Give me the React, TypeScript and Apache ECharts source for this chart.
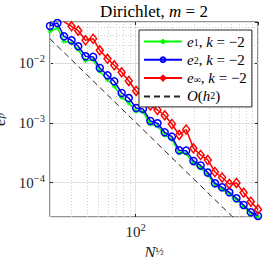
import React, { useEffect, useRef } from "react";
import * as echarts from "echarts";

const FONT = "'Liberation Serif', 'DejaVu Serif', serif";

// N^(1/2) sample positions
const sqrtN = [20, 23, 26, 30, 34, 39, 45, 51, 59, 67, 77, 88, 101, 115, 132, 151, 173, 198, 227, 259, 297, 340, 389, 445, 509, 583, 667, 763, 874, 1000];

// errors
const e1 = [0.0344, 0.039, 0.02335, 0.0219, 0.0169, 0.01106, 0.01148, 0.00735, 0.00531, 0.00412, 0.00269, 0.00216, 0.00157, 0.00153, 0.000962, 0.000891, 0.00063, 0.00053, 0.000314, 0.000308, 0.00021, 0.000176, 0.000135, 9.04e-5, 7.75e-5, 6.46e-5, 5.13e-5, 3.99e-5, 3.05e-5, 2.66e-5];
const e2 = [0.0422, 0.0473, 0.0283, 0.0243, 0.0193, 0.0131, 0.0128, 0.00834, 0.00629, 0.00499, 0.00318, 0.00262, 0.00178, 0.00172, 0.00108, 0.000989, 0.000698, 0.00059, 0.000349, 0.000344, 0.000231, 0.000194, 0.000148, 9.77e-5, 8.37e-5, 6.9e-5, 5.48e-5, 4.23e-5, 3.19e-5, 2.77e-5];
const eInf = [0.068, 0.072, 0.05, 0.0417, 0.0352, 0.0243, 0.0258, 0.0165, 0.0119, 0.00926, 0.00707, 0.00506, 0.00344, 0.00262, 0.00196, 0.00165, 0.00134, 0.000962, 0.00063, 0.000778, 0.000377, 0.000291, 0.00024, 0.000151, 0.000122, 9.51e-5, 9.89e-5, 6.8e-5, 4.8e-5, 3.56e-5];

// reference slope O(h^2): end points
const refX = [20, 1000];
const refY = [0.0257, 1.028e-5];

// axis limits
const xMin = 20;
const xMax = 1000;
const yMin = 2.66e-5;
const yMax = 0.0492;

// minor grid values
const minorMult = [2, 3, 4, 5, 6, 7, 8, 9];
const xDecades = [10, 100];
const yDecades = [1e-5, 1e-4, 1e-3, 1e-2];

const pairs = (xs: number[], ys: number[]) => xs.map((x, i) => [x, ys[i]]);

const ASTERISK = "path://M5,0L5,10M0,5L10,5M1.5,1.5L8.5,8.5M1.5,8.5L8.5,1.5";

export default function App() {
  const ref = useRef<HTMLDivElement>(null);
  useEffect(() => {
    if (!ref.current) return;
    const chart = echarts.init(ref.current, null, { renderer: "svg" });

    const minorX: number[] = [];
    xDecades.forEach((d) => minorMult.forEach((m) => { const v = d * m; if (v > xMin && v < xMax) minorX.push(v); }));
    const minorY: number[] = [];
    yDecades.forEach((d) => minorMult.forEach((m) => { const v = d * m; if (v > yMin && v < yMax) minorY.push(v); }));

    const sup = (e: number) => (e < 0 ? "\u2212" + -e : String(e));
    const logLabel = (v: number) => "{b|10}{s|" + sup(Math.round(Math.log10(v))) + "}";
    const tickRich = {
      b: { fontSize: 15, lineHeight: 20, fontFamily: FONT, color: "#262626" },
      s: { fontSize: 10.5, lineHeight: 10, verticalAlign: "top", fontFamily: FONT, color: "#262626" },
    };

    const legendNames: Record<string, string> = {
      e1: "{i|e}{sub|1}{n|, }{i|k}{n| = \u22122}",
      e2: "{i|e}{sub|2}{n|, }{i|k}{n| = \u22122}",
      einf: "{i|e}{sub|\u221e}{n|, }{i|k}{n| = \u22122}",
      O: "{i|O}{n|(}{i|h}{sp|2}{n|)}",
    };

    const axisTick = { inside: true, length: 3, lineStyle: { color: "#262626", width: 1 } };

    chart.setOption({
      animation: false,
      backgroundColor: "#fff",
      textStyle: { fontFamily: FONT },
      title: {
        text: "{n|Dirichlet, }{i|m}{n| = 2}",
        left: 154,
        top: 2,
        padding: 0,
        textAlign: "center",
        textStyle: {
          fontWeight: "normal",
          rich: {
            n: { fontSize: 17, lineHeight: 18, fontFamily: FONT, color: "#000" },
            i: { fontSize: 17, lineHeight: 18, fontFamily: FONT, fontStyle: "italic", color: "#000" },
          },
        },
      },
      grid: {
        left: 50, right: 8, top: 22, bottom: 40,
        containLabel: false,
        outerBoundsMode: "none",
        show: true, borderColor: "#262626", borderWidth: 1, backgroundColor: "transparent",
      },
      legend: {
        orient: "vertical",
        left: 139,
        top: 30,
        data: ["e1", "e2", "einf", { name: "O", itemStyle: { opacity: 0 } }],
        itemWidth: 38,
        itemHeight: 6,
        itemGap: 3.3,
        padding: [4, 5, 3, 4],
        backgroundColor: "#fff",
        borderColor: "#262626",
        borderWidth: 1,
        borderRadius: 0,
        selectedMode: false,
        formatter: (n: string) => legendNames[n],
        textStyle: {
          fontFamily: FONT,
          color: "#000",
          rich: {
            n: { fontSize: 15, lineHeight: 12, fontFamily: FONT, color: "#000" },
            i: { fontSize: 15, lineHeight: 12, fontFamily: FONT, fontStyle: "italic", color: "#000" },
            sub: { fontSize: 10, lineHeight: 8, verticalAlign: "bottom", fontFamily: FONT, color: "#000" },
            sp: { fontSize: 10, lineHeight: 8, verticalAlign: "top", fontFamily: FONT, color: "#000" },
          },
        },
      },
      xAxis: [
        {
          type: "log",
          logBase: 10,
          min: xMin,
          max: xMax,
          position: "bottom",
          axisLine: { show: false },
          axisTick,
          axisLabel: { showMinLabel: false, showMaxLabel: false, margin: 5, formatter: logLabel, rich: tickRich },
          splitLine: { show: true, lineStyle: { color: "#e2e2e2", width: 1 } },
          name: "{i|N}{s|\u00bd}",
          nameLocation: "middle",
          nameGap: 19,
          nameTextStyle: {
            rich: {
              i: { fontSize: 17, lineHeight: 14, fontStyle: "italic", fontFamily: FONT, color: "#262626" },
              s: { fontSize: 11, lineHeight: 8, verticalAlign: "top", fontFamily: FONT, color: "#262626" },
            },
          },
        },
        {
          type: "log",
          logBase: 10,
          min: xMin,
          max: xMax,
          position: "top",
          axisLine: { show: false },
          axisTick,
          axisLabel: { show: false },
          splitLine: { show: false },
        },
      ],
      yAxis: [
        {
          type: "log",
          logBase: 10,
          min: yMin,
          max: yMax,
          position: "left",
          axisLine: { show: false },
          axisTick,
          axisLabel: { showMinLabel: false, showMaxLabel: false, margin: 5, formatter: logLabel, rich: tickRich },
          splitLine: { show: true, lineStyle: { color: "#e2e2e2", width: 1 } },
          name: "{i|e}{s|p}",
          nameLocation: "middle",
          nameGap: 31,
          nameTextStyle: {
            rich: {
              i: { fontSize: 17, lineHeight: 12, fontStyle: "italic", fontFamily: FONT, color: "#262626" },
              s: { fontSize: 11, lineHeight: 8, verticalAlign: "bottom", fontStyle: "italic", fontFamily: FONT, color: "#262626" },
            },
          },
        },
        {
          type: "log",
          logBase: 10,
          min: yMin,
          max: yMax,
          position: "right",
          axisLine: { show: false },
          axisTick,
          axisLabel: { show: false },
          splitLine: { show: false },
        },
      ],
      series: [
        {
          name: "e1",
          type: "line",
          data: pairs(sqrtN, e1),
          color: "#00ff00",
          lineStyle: { color: "#00ff00", width: 1.5 },
          symbol: ASTERISK,
          symbolSize: 5,
          itemStyle: { color: "#00ff00", borderColor: "#00ff00", borderWidth: 1 },
          clip: true,
          z: 2,
          markLine: {
            silent: true,
            z: 1,
            symbol: ["none", "none"],
            label: { show: false },
            emphasis: { disabled: true },
            animation: false,
            lineStyle: { type: [1, 2], color: "#cdcdcd", width: 1 },
            data: [...minorX.map((v) => ({ xAxis: v })), ...minorY.map((v) => ({ yAxis: v }))],
          },
        },
        {
          name: "e2",
          type: "line",
          data: pairs(sqrtN, e2),
          color: "#0000ff",
          lineStyle: { color: "#0000ff", width: 1.5 },
          symbol: "circle",
          symbolSize: 7,
          itemStyle: { color: "rgba(255,255,255,0)", borderColor: "#0000ff", borderWidth: 1.5 },
          clip: true,
          z: 3,
        },
        {
          name: "einf",
          type: "line",
          data: pairs(sqrtN, eInf),
          color: "#ff0000",
          lineStyle: { color: "#ff0000", width: 1.5 },
          symbol: "diamond",
          symbolSize: [7, 9],
          itemStyle: { color: "rgba(255,255,255,0)", borderColor: "#ff0000", borderWidth: 1.5 },
          clip: true,
          z: 3,
        },
        {
          name: "O",
          type: "line",
          data: pairs(refX, refY),
          color: "#262626",
          lineStyle: { color: "#262626", width: 1, type: [6, 4] },
          symbol: "none",
          clip: true,
          z: 3,
        },
      ],
    });
    return () => chart.dispose();
  }, []);
  return <div ref={ref} style={{ position: "fixed", left: 0, top: 0, width: 266, height: 257 }} />;
}
